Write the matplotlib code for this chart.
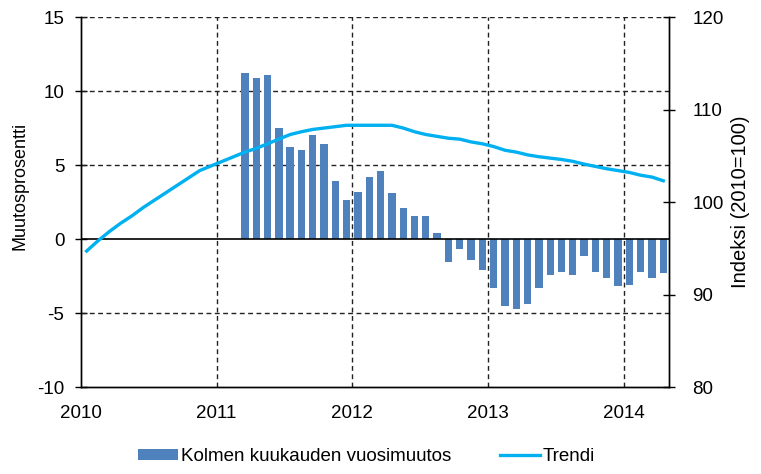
import numpy as np
import matplotlib
matplotlib.use("Agg")
from matplotlib import pyplot as plt

plt.rcParams['font.family'] = ['Liberation Sans', 'DejaVu Sans']
plt.rcParams['font.size'] = 13.5
plt.rcParams['axes.unicode_minus'] = False

# Trendi (2010=100), monthly from Jan 2010 to Apr 2014
trend_start = 2010
trend = [94.7, 95.8, 96.8, 97.7, 98.5, 99.4, 100.2, 101.0, 101.8, 102.6, 103.4, 103.9,
         104.4, 104.9, 105.4, 105.8, 106.3, 106.8, 107.3, 107.6, 107.85, 108.0, 108.15, 108.3,
         108.3, 108.3, 108.3, 108.3, 108.0, 107.6, 107.3, 107.1, 106.9, 106.8, 106.5, 106.3,
         106.0, 105.6, 105.4, 105.1, 104.9, 104.75, 104.6, 104.4, 104.1, 103.85, 103.6, 103.4,
         103.2, 102.9, 102.7, 102.3]

# Kolmen kuukauden vuosimuutos (%), monthly from Mar 2011 to Apr 2014
bars_start_month = 2  # March 2011 (0 = January)
bars_start_year = 2011
change = [11.2, 10.9, 11.1, 7.5, 6.2, 6.0, 7.0, 6.4, 3.95, 2.65,
          3.2, 4.2, 4.6, 3.1, 2.1, 1.55, 1.55, 0.4, -1.55, -0.7, -1.45, -2.1,
          -3.3, -4.5, -4.7, -4.4, -3.3, -2.45, -2.25, -2.45, -1.15, -2.25, -2.65, -3.2,
          -3.1, -2.25, -2.65, -2.3]

years = [2010, 2011, 2012, 2013, 2014]
bar_color = '#4F81BD'
line_color = '#00B0F0'

x_trend = trend_start + (np.arange(len(trend)) + 0.5) / 12
x_bars = bars_start_year + (bars_start_month + np.arange(len(change)) + 0.5) / 12

fig = plt.figure(figsize=(7.61, 4.74), dpi=100)
ax = fig.add_axes([0.1064, 0.1835, 0.7726, 0.7805])
ax2 = ax.twinx()

ax.set_axisbelow(True)
ax.bar(x_bars, change, width=0.65 / 12, color=bar_color,
       label='Kolmen kuukauden vuosimuutos', zorder=2)
ax.axhline(0, color='black', lw=1.2, zorder=3)
ax2.plot(x_trend, trend, color=line_color, lw=2.4, label='Trendi')

ax.set_xlim(2010, 2010 + 4 + 4 / 12)
ax.set_ylim(-10, 15)
ax2.set_ylim(80, 120)
ax.set_yticks([-10, -5, 0, 5, 10, 15])
ax2.set_yticks([80, 90, 100, 110, 120])
ax.set_xticks(years)
ax.set_xticklabels([str(y) for y in years])

# dashed grid, solid zero line
dash = (0, (3.5, 2.5))
for y in [5, 10, 15, -5]:
    ax.axhline(y, color='#222222', lw=1, linestyle=dash, zorder=1)
for yr in years[1:]:
    ax.axvline(yr, color='#222222', lw=1, linestyle=dash, zorder=1)

for a in (ax, ax2):
    a.spines['top'].set_visible(False)
    a.spines['left'].set_linewidth(1)
    a.spines['right'].set_linewidth(1)
    a.spines['bottom'].set_linewidth(1)
ax.tick_params(axis='y', direction='inout', length=8, width=1, pad=8)
ax2.tick_params(axis='y', direction='inout', length=8, width=1, pad=13)
ax.tick_params(axis='x', length=0, pad=13)

fig.text(20 / 761, 1 - 186 / 474, 'Muutosprosentti', rotation=90,
         ha='center', va='center', fontsize=13)
fig.text(740 / 761, 1 - 202 / 474, 'Indeksi (2010=100)', rotation=90,
         ha='center', va='center', fontsize=14.5)

h1, l1 = ax.get_legend_handles_labels()
h2, l2 = ax2.get_legend_handles_labels()
fig.legend(h1 + h2, l1 + l2, loc='center', bbox_to_anchor=(0.4816, 0.036), ncol=2,
           frameon=False, handlelength=2.15, handleheight=0.55, handletextpad=0.15,
           columnspacing=2.6)

fig.savefig('out.png', dpi=100)
